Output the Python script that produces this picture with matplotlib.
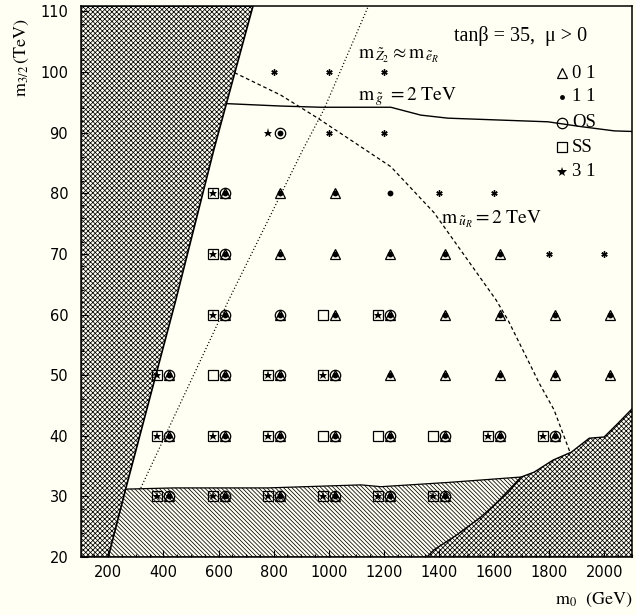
import matplotlib
matplotlib.use('Agg')
import matplotlib.pyplot as plt
from matplotlib.transforms import offset_copy
from matplotlib.ticker import MultipleLocator

plt.rcParams['mathtext.fontset'] = 'stix'
plt.rcParams['hatch.linewidth'] = 0.55
plt.rcParams['lines.scale_dashes'] = False

bg = '#fffff3'
serif = 'Liberation Serif'

# theoretically excluded corner (left) and the no-EWSB corner (lower right)
left_m0 = [100, 200, 263, 445, 583, 725, 100]
left_m32 = [20, 20, 31.2, 62.4, 87.2, 110.9, 110.9]
right_m0 = [1356, 1382, 1460, 1552, 1650, 1698, 1745, 1814, 1880, 1945, 1999, 2050, 2110, 2110]
right_m32 = [20, 21.2, 23.5, 26.6, 30.6, 33.2, 34.0, 36.0, 37.3, 39.6, 39.8, 42.1, 44.9, 20]
# experimentally excluded band
band_m0 = [190, 1420, 1698, 1552, 1432, 1189, 1117, 779, 438, 263]
band_m32 = [20, 20, 33.2, 32.7, 32.3, 31.6, 31.9, 31.4, 31.4, 31.2]

# contours
gluino_m0 = [628, 826, 971, 1225, 1334, 1432, 1795, 1916, 2036, 2105]
gluino_m32 = [94.8, 94.4, 94.2, 94.2, 92.9, 92.4, 91.8, 91.0, 90.3, 90.2]
squark_m0 = [658, 826, 960, 1225, 1382, 1607, 1650, 1734, 1763, 1817, 1875]
squark_m32 = [99.9, 96.2, 92.4, 84.4, 76.8, 62.4, 59.1, 51.4, 48.7, 44.3, 37.3]
z2_m0 = [318, 637, 906, 982, 1153]
z2_m32 = [31.4, 62.4, 87.2, 93.8, 111.9]

# scan points and the channels with an observable signal
ALL = '01 11 OS SS 31'
pt_m0 = [400, 600, 800, 1000, 1200, 1400,
         400, 600, 800, 1000, 1200, 1400, 1600, 1800,
         400, 600, 800, 1000, 1200, 1400, 1600, 1800, 2000,
         600, 800, 1000, 1200, 1400, 1600, 1800, 2000,
         600, 800, 1000, 1200, 1400, 1600, 1800, 2000,
         600, 800, 1000, 1200, 1400, 1600,
         800, 1000, 1200,
         800, 1000, 1200]
pt_m32 = [30] * 6 + [40] * 8 + [50] * 9 + [60] * 8 + [70] * 8 + [80] * 6 + [90] * 3 + [100] * 3
pt_sig = [ALL, ALL, ALL, ALL, ALL, ALL,
          ALL, ALL, ALL, '01 11 OS SS', '01 11 OS SS', '01 11 OS SS', ALL, ALL,
          ALL, '01 11 OS SS', ALL, ALL, '01 11', '01 11', '01 11', '01 11', '01 11',
          ALL, '01 11 OS', '01 11 SS', ALL, '01 11', '01 11', '01 11', '01 11',
          ALL, '01 11', '01 11', '01 11', '01 11', '01 11', '', '',
          ALL, '01 11', '01 11', '11', '', '',
          '11 OS 31', '', '',
          '', '', '']

fig = plt.figure(figsize=(6.36, 6.15), dpi=100, facecolor=bg)
ax = fig.add_axes([0.1269, 0.0943, 0.8668, 0.8959], facecolor=bg)
ax.set_xlim(100, 2100)
ax.set_ylim(20, 110.9)

ax.fill(band_m0, band_m32, facecolor=bg, edgecolor='k', hatch='\\' * 8, lw=0.9, zorder=1)
ax.fill(right_m0, right_m32, facecolor=bg, edgecolor='k', hatch='x' * 7, lw=1.0, zorder=1.2)
ax.fill(left_m0, left_m32, facecolor=bg, edgecolor='k', hatch='x' * 7, lw=1.2, zorder=1.2)

ax.plot(gluino_m0, gluino_m32, color='k', lw=1.0, zorder=2)
ax.plot(squark_m0, squark_m32, color='k', lw=0.9, ls=(0, (2.6, 2.0)), zorder=2)
ax.plot(z2_m0, z2_m32, color='k', lw=0.9, ls=(0, (0.8, 1.6)), zorder=2)

left = offset_copy(ax.transData, fig=fig, x=-4.3, y=0, units='points')
right = offset_copy(ax.transData, fig=fig, x=4.3, y=0, units='points')


def pick(code):
    xs = [x for x, s in zip(pt_m0, pt_sig) if code in s.split()]
    ys = [y for y, s in zip(pt_m32, pt_sig) if code in s.split()]
    return xs, ys


x, y = pick('SS')
ax.plot(x, y, 's', ms=7, mfc='none', mec='k', mew=0.9, transform=left, zorder=3)
x, y = pick('31')
ax.plot(x, y, '*', ms=6.5, color='k', mew=0, transform=left, zorder=3)
x, y = pick('OS')
ax.plot(x, y, 'o', ms=7.5, mfc='none', mec='k', mew=0.9, transform=right, zorder=3)
x, y = pick('01')
ax.plot(x, y, '^', ms=6.5, mfc='none', mec='k', mew=0.9, transform=right, zorder=3)
x, y = pick('11')
ax.plot(x, y, 'o', ms=4.2, color='k', mew=0, transform=right, zorder=3)
x = [a for a, s in zip(pt_m0, pt_sig) if s == '']
y = [b for b, s in zip(pt_m32, pt_sig) if s == '']
ax.plot(x, y, ls='none', marker=(6, 2, 0), ms=4.5, color='k', mew=1.0, zorder=3)

# legend
leg_y = [0.878, 0.835, 0.788, 0.744, 0.699]
leg_lab = ['0 1', '1 1', 'OS', 'SS', '3 1']
leg_mk = [dict(marker='^', ms=7.5, mfc='none', mec='k', mew=0.9),
          dict(marker='o', ms=3.5, color='k', mew=0),
          dict(marker='o', ms=7.5, mfc='none', mec='k', mew=0.9),
          dict(marker='s', ms=6.5, mfc='none', mec='k', mew=0.9),
          dict(marker='*', ms=7, color='k', mew=0)]
for yy, lab, mk in zip(leg_y, leg_lab, leg_mk):
    ax.plot([0.873], [yy], ls='none', transform=ax.transAxes, zorder=4, **mk)
    ax.text(0.891, yy, lab, transform=ax.transAxes, family=serif, fontsize=13.5,
            va='center', ha='left', zorder=4)

ax.text(0.678, 0.945, 'tan\u03b2 = 35,  \u03bc > 0', transform=ax.transAxes,
        family=serif, fontsize=14.5, va='center', ha='left')
ax.text(1105, 102.8, r'$\mathrm{m}_{\,\tilde{Z}_2}\approx\mathrm{m}_{\,\tilde{e}_R}$',
        fontsize=14, va='center', ha='left')
ax.text(1105, 95.9, r'$\mathrm{m}_{\,\tilde{g}}\ = 2\ \mathrm{TeV}$',
        fontsize=14, va='center', ha='left')
ax.text(1408, 75.8, r'$\mathrm{m}_{\,\tilde{u}_R}= 2\ \mathrm{TeV}$',
        fontsize=14, va='center', ha='left')

ax.text(1.0, -0.078, r'$\mathrm{m}_0\ \ (\mathrm{GeV})$', transform=ax.transAxes,
        fontsize=13, ha='right', va='center')
ax.text(-0.1065, 0.978, r'$\mathrm{m}_{3/2}\,(\mathrm{TeV})$', transform=ax.transAxes,
        fontsize=13, ha='center', va='top', rotation=90)

ax.xaxis.set_major_locator(MultipleLocator(200))
ax.xaxis.set_minor_locator(MultipleLocator(50))
ax.yaxis.set_major_locator(MultipleLocator(10))
ax.yaxis.set_minor_locator(MultipleLocator(2))
ax.tick_params(which='both', direction='in', top=False, right=False, width=0.8, labelsize=10.5)
ax.tick_params(which='major', length=5)
ax.tick_params(which='minor', length=2.5)
ax.tick_params(axis='x', pad=6)
ax.tick_params(axis='y', pad=9)
for sp in ax.spines.values():
    sp.set_linewidth(1.1)
    sp.set_zorder(5)

fig.savefig('out.png', dpi=100, facecolor=bg)
